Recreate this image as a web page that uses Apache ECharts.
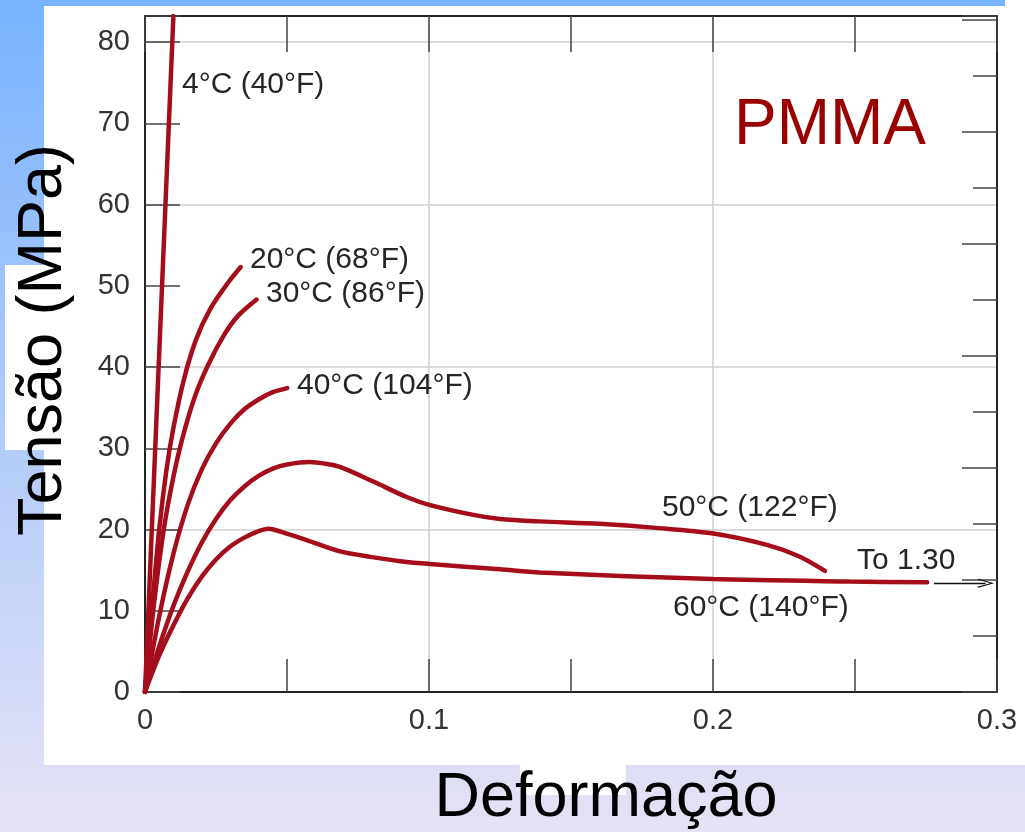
<!DOCTYPE html>
<html lang="pt">
<head>
  <meta charset="utf-8">
  <title>PMMA - Tensão x Deformação</title>
  <style>
    html, body { margin: 0; padding: 0; }
    #chart { width: 1025px; height: 832px; }
  </style>
</head>
<body>
  <div id="chart"></div>
  <script src="https://cdn.jsdelivr.net/npm/echarts@6/dist/echarts.min.js"></script>
  <script>
    // curvas tensão (MPa) x deformação
    var curve4 = [[0, 0], [0.0048, 40], [0.0100, 83.2]];
    var curve20 = [[0, 0], [0.0025, 10.5], [0.005, 20], [0.0075, 27.2], [0.010, 32.5], [0.0138, 38.6], [0.018, 43.4], [0.0229, 47.1], [0.0293, 50.4], [0.0337, 52.3]];
    var curve30 = [[0, 0], [0.003, 10.3], [0.0066, 20], [0.010, 26.5], [0.013, 31.0], [0.0175, 36.3], [0.0223, 40.3], [0.0276, 43.8], [0.0325, 46.2], [0.0393, 48.3]];
    var curve40 = [[0, 0], [0.005, 9.3], [0.010, 17.0], [0.015, 23.0], [0.020, 27.4], [0.025, 30.6], [0.030, 33.0], [0.035, 34.8], [0.040, 36.0], [0.045, 36.9], [0.0501, 37.4]];
    var curve50 = [[0, 0], [0.005, 5.6], [0.010, 10.6], [0.015, 14.8], [0.020, 18.4], [0.025, 21.3], [0.030, 23.6], [0.035, 25.3], [0.040, 26.6], [0.045, 27.5], [0.050, 28.0], [0.058, 28.3], [0.065, 28.0], [0.0687, 27.7], [0.0804, 25.9], [0.0921, 24.0], [0.1004, 23.0], [0.1156, 21.8], [0.125, 21.3], [0.139, 21.0], [0.160, 20.7], [0.180, 20.2], [0.2001, 19.5], [0.219, 18.1], [0.2306, 16.65], [0.2394, 14.9]];
    var curve60 = [[0, 0], [0.005, 4.5], [0.010, 8.2], [0.015, 11.5], [0.020, 14.2], [0.025, 16.3], [0.030, 17.9], [0.035, 19.0], [0.040, 19.8], [0.0435, 20.1], [0.048, 19.7], [0.0569, 18.7], [0.0687, 17.3], [0.080, 16.6], [0.090, 16.1], [0.1004, 15.75], [0.125, 15.1], [0.139, 14.7], [0.2, 13.9], [0.248, 13.6], [0.2754, 13.5]];
    var curveNames = ['4°C (40°F)', '20°C (68°F)', '30°C (86°F)', '40°C (104°F)', '50°C (122°F)', '60°C (140°F)'];
    var curves = [curve4, curve20, curve30, curve40, curve50, curve60];
    // seta "To 1.30" na curva de 60°C
    var arrowFrom = [0.2778, 13.4];
    var arrowTo = [0.2960, 13.4];

    var xMin = 0, xMax = 0.3, xStep = 0.05;
    var yMin = 0, yMax = 83.2, yStep = 10;
    var MPA_PER_KSI = 6.895;

    var font = 'Liberation Sans, Arial, sans-serif';
    var red = '#a50d1b';

    var myChart = echarts.init(document.getElementById('chart'));

    var series = curves.map(function (d, i) {
      return {
        name: curveNames[i],
        type: 'line',
        data: d,
        smooth: 0.3,
        showSymbol: false,
        silent: true,
        lineStyle: { color: red, width: 4.5, cap: 'round' },
        z: 3
      };
    });
    // seta horizontal depois do fim da curva de 60°C
    series[5].markLine = {
      silent: true,
      symbol: ['none', 'path://M0,10 L5,0 L10,10 L9,10.8 L5,2.4 L1,10.8 Z'],
      symbolSize: [9, 17],
      label: { show: false },
      lineStyle: { color: '#111', width: 1.3, type: 'solid' },
      data: [[{ coord: arrowFrom }, { coord: arrowTo }]]
    };

    function labelText(x, y, text) {
      return {
        type: 'text', left: x, top: y - 15, z: 100,
        style: { text: text, font: '30px ' + font, fill: '#262626' }
      };
    }

    var axisLineStyle = { color: '#222', width: 2 };
    var tickStyle = { color: '#444', width: 1.5 };

    var option = {
      backgroundColor: new echarts.graphic.LinearGradient(0, 0, 0, 1, [
        { offset: 0, color: '#77b3ff' },
        { offset: 1, color: '#e6e2f4' }
      ]),
      animation: false,
      grid: { left: 145, right: 28, top: 16, bottom: 140 },
      xAxis: [
        {
          type: 'value', min: xMin, max: xMax, interval: xStep,
          axisLine: { onZero: false, lineStyle: axisLineStyle },
          axisTick: { inside: true, length: 33, lineStyle: tickStyle },
          axisLabel: {
            margin: 14, color: '#333', fontSize: 29, fontFamily: font,
            formatter: function (v) {
              var k = Math.round(v * 100);
              return k % 10 === 0 ? String(k / 100) : '';
            }
          },
          splitLine: { show: true, showMinLine: true, lineStyle: { color: ['#cfcfcf', 'transparent'], width: 1.5 } }
        },
        {
          type: 'value', position: 'top', min: xMin, max: xMax, interval: xStep,
          axisLine: { show: true, onZero: false, lineStyle: axisLineStyle },
          axisTick: { show: true, inside: true, length: 36, lineStyle: tickStyle },
          axisLabel: { show: false },
          splitLine: { show: false }
        }
      ],
      yAxis: [
        {
          type: 'value', min: yMin, max: yMax, interval: yStep,
          axisLine: { show: true, onZero: false, lineStyle: axisLineStyle },
          axisTick: { show: true, inside: true, length: 35, lineStyle: tickStyle },
          axisLabel: {
            margin: 15, color: '#333', fontSize: 29, fontFamily: font,
            formatter: function (v) {
              return Math.abs(v - Math.round(v / 10) * 10) < 1e-6 ? String(Math.round(v)) : '';
            }
          },
          splitLine: { show: true, showMinLine: true, lineStyle: { color: ['#cfcfcf', 'transparent'], width: 1.5 } }
        },
        {
          // escala em ksi (sem rótulos), como no original
          type: 'value', position: 'right', min: 0, max: yMax / MPA_PER_KSI, interval: 2,
          axisLine: { show: true, onZero: false, lineStyle: axisLineStyle },
          axisTick: { show: true, inside: true, length: 35, lineStyle: tickStyle },
          minorTick: { show: true, splitNumber: 2, length: 24, lineStyle: tickStyle },
          axisLabel: { show: false },
          splitLine: { show: false }
        }
      ],
      series: series,
      graphic: [
        { type: 'rect', z: -100, shape: { x: 44, y: 6, width: 981, height: 759 }, style: { fill: '#fff' } },
        { type: 'rect', z: -100, shape: { x: 1005, y: 0, width: 20, height: 6 }, style: { fill: '#fff' } },
        { type: 'rect', z: -100, shape: { x: 5, y: 265, width: 39, height: 185 }, style: { fill: '#fff' } },
        { type: 'rect', z: -100, shape: { x: 520, y: 765, width: 106, height: 30 }, style: { fill: '#fff' } },
        {
          type: 'text', x: 44, y: 340, rotation: Math.PI / 2, z: 100,
          style: { text: 'Tensão (MPa)', font: '63px ' + font, fill: '#000', align: 'center', verticalAlign: 'middle' }
        },
        {
          type: 'text', x: 606, y: 799, z: 100,
          style: { text: 'Deformação', font: '63px ' + font, fill: '#000', align: 'center', verticalAlign: 'middle' }
        },
        {
          type: 'text', x: 830, y: 126, z: 100,
          style: { text: 'PMMA', font: '64px ' + font, fill: '#9b0000', align: 'center', verticalAlign: 'middle' }
        },
        labelText(182, 85, curveNames[0]),
        labelText(250, 260, curveNames[1]),
        labelText(266, 294, curveNames[2]),
        labelText(297, 386, curveNames[3]),
        labelText(662, 508, curveNames[4]),
        labelText(673, 608, curveNames[5]),
        labelText(857, 561, 'To 1.30')
      ]
    };

    myChart.setOption(option);
  </script>
</body>
</html>
